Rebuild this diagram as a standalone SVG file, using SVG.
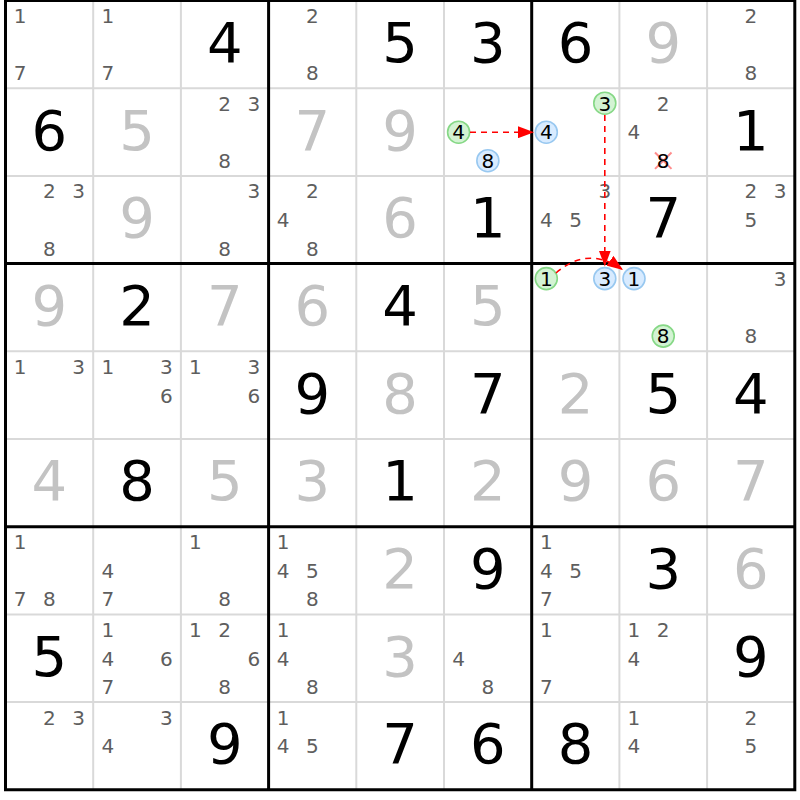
<svg xmlns="http://www.w3.org/2000/svg" width="800" height="800" viewBox="0 0 800 800">
<defs>
<style>
text{font-family:"DejaVu Sans","Liberation Sans",sans-serif;text-anchor:middle}
.g{font-size:56px;fill:#000}
.s{font-size:56px;fill:#c3c3c3}
.c{font-size:20px;fill:#5e5e5e}
.k{font-size:20px;fill:#000}
.gr{fill:#d3f3d3;stroke:#86d886;stroke-width:1.6}
.bl{fill:#d8ebff;stroke:#98c8f0;stroke-width:1.6}
.thin{stroke:#d9d9d9;stroke-width:2;fill:none}
.thick{stroke:#000;stroke-width:3;fill:none;stroke-linecap:square}
.arr{stroke:#f00;stroke-width:1.6;fill:none;stroke-dasharray:6 5}
.x{stroke:#ff7878;stroke-width:2;opacity:0.85}
</style>
<marker id="ah" markerUnits="userSpaceOnUse" markerWidth="16" markerHeight="12" viewBox="0 0 16 12" refX="16" refY="6" orient="auto">
<path d="M0,0 L16,6 L0,12 Z" fill="#f00"/>
</marker>
</defs>
<rect width="800" height="800" fill="#fff"/>
<g id="grid">
<path class="thin" d="M93.2,0.5V789.8M180.9,0.5V789.8M356.3,0.5V789.8M444,0.5V789.8M619.4,0.5V789.8M707.1,0.5V789.8M5.5,88.2H794.8M5.5,175.9H794.8M5.5,351.3H794.8M5.5,439H794.8M5.5,614.4H794.8M5.5,702.1H794.8"/>
<path class="thick" d="M5.5,0.5V789.8M268.6,0.5V789.8M531.7,0.5V789.8M794.8,0.5V789.8M5.5,0.5H794.8M5.5,263.6H794.8M5.5,526.7H794.8M5.5,789.8H794.8"/>
</g>

<g id="r1c1" transform="translate(5.5,0.5)"><text class="c" x="14.6" y="22.5">1</text><text class="c" x="14.6" y="79.8">7</text></g>
<g id="r1c2" transform="translate(93.2,0.5)"><text class="c" x="14.6" y="22.5">1</text><text class="c" x="14.6" y="79.8">7</text></g>
<g id="r1c3" transform="translate(180.9,0.5)"><text class="g" x="43.85" y="61.35">4</text></g>
<g id="r1c4" transform="translate(268.6,0.5)"><text class="c" x="43.85" y="22.5">2</text><text class="c" x="43.85" y="79.8">8</text></g>
<g id="r1c5" transform="translate(356.3,0.5)"><text class="g" x="43.85" y="61.35">5</text></g>
<g id="r1c6" transform="translate(444,0.5)"><text class="g" x="43.85" y="61.35">3</text></g>
<g id="r1c7" transform="translate(531.7,0.5)"><text class="g" x="43.85" y="61.35">6</text></g>
<g id="r1c8" transform="translate(619.4,0.5)"><text class="s" x="43.85" y="61.35">9</text></g>
<g id="r1c9" transform="translate(707.1,0.5)"><text class="c" x="43.85" y="22.5">2</text><text class="c" x="43.85" y="79.8">8</text></g>

<g id="r2c1" transform="translate(5.5,88.2)"><text class="g" x="43.85" y="61.35">6</text></g>
<g id="r2c2" transform="translate(93.2,88.2)"><text class="s" x="43.85" y="61.35">5</text></g>
<g id="r2c3" transform="translate(180.9,88.2)"><text class="c" x="43.85" y="22.5">2</text><text class="c" x="73.1" y="22.5">3</text><text class="c" x="43.85" y="79.8">8</text></g>
<g id="r2c4" transform="translate(268.6,88.2)"><text class="s" x="43.85" y="61.35">7</text></g>
<g id="r2c5" transform="translate(356.3,88.2)"><text class="s" x="43.85" y="61.35">9</text></g>
<g id="r2c6" transform="translate(444,88.2)"><circle class="gr" cx="14.6" cy="44" r="11"/><text class="k" x="14.6" y="51.3">4</text><circle class="bl" cx="43.85" cy="72.5" r="11"/><text class="k" x="43.85" y="79.8">8</text></g>
<g id="r2c7" transform="translate(531.7,88.2)"><circle class="gr" cx="73.1" cy="15" r="11"/><text class="k" x="73.1" y="22.5">3</text><circle class="bl" cx="14.6" cy="44" r="11"/><text class="k" x="14.6" y="51.3">4</text></g>
<g id="r2c8" transform="translate(619.4,88.2)"><text class="c" x="43.85" y="22.5">2</text><text class="c" x="14.6" y="51.3">4</text><path class="x" d="M35.6,64.3L52.1,80.7M52.1,64.3L35.6,80.7"/><text class="k" x="43.85" y="79.8">8</text></g>
<g id="r2c9" transform="translate(707.1,88.2)"><text class="g" x="43.85" y="61.35">1</text></g>

<g id="r3c1" transform="translate(5.5,175.9)"><text class="c" x="43.85" y="22.5">2</text><text class="c" x="73.1" y="22.5">3</text><text class="c" x="43.85" y="79.8">8</text></g>
<g id="r3c2" transform="translate(93.2,175.9)"><text class="s" x="43.85" y="61.35">9</text></g>
<g id="r3c3" transform="translate(180.9,175.9)"><text class="c" x="73.1" y="22.5">3</text><text class="c" x="43.85" y="79.8">8</text></g>
<g id="r3c4" transform="translate(268.6,175.9)"><text class="c" x="43.85" y="22.5">2</text><text class="c" x="14.6" y="51.3">4</text><text class="c" x="43.85" y="79.8">8</text></g>
<g id="r3c5" transform="translate(356.3,175.9)"><text class="s" x="43.85" y="61.35">6</text></g>
<g id="r3c6" transform="translate(444,175.9)"><text class="g" x="43.85" y="61.35">1</text></g>
<g id="r3c7" transform="translate(531.7,175.9)"><text class="c" x="73.1" y="22.5">3</text><text class="c" x="14.6" y="51.3">4</text><text class="c" x="43.85" y="51.3">5</text></g>
<g id="r3c8" transform="translate(619.4,175.9)"><text class="g" x="43.85" y="61.35">7</text></g>
<g id="r3c9" transform="translate(707.1,175.9)"><text class="c" x="43.85" y="22.5">2</text><text class="c" x="73.1" y="22.5">3</text><text class="c" x="43.85" y="51.3">5</text></g>

<g id="r4c1" transform="translate(5.5,263.6)"><text class="s" x="43.85" y="61.35">9</text></g>
<g id="r4c2" transform="translate(93.2,263.6)"><text class="g" x="43.85" y="61.35">2</text></g>
<g id="r4c3" transform="translate(180.9,263.6)"><text class="s" x="43.85" y="61.35">7</text></g>
<g id="r4c4" transform="translate(268.6,263.6)"><text class="s" x="43.85" y="61.35">6</text></g>
<g id="r4c5" transform="translate(356.3,263.6)"><text class="g" x="43.85" y="61.35">4</text></g>
<g id="r4c6" transform="translate(444,263.6)"><text class="s" x="43.85" y="61.35">5</text></g>
<g id="r4c7" transform="translate(531.7,263.6)"><circle class="gr" cx="14.6" cy="15" r="11"/><text class="k" x="14.6" y="22.5">1</text><circle class="bl" cx="73.1" cy="15" r="11"/><text class="k" x="73.1" y="22.5">3</text></g>
<g id="r4c8" transform="translate(619.4,263.6)"><circle class="bl" cx="14.6" cy="15" r="11"/><text class="k" x="14.6" y="22.5">1</text><circle class="gr" cx="43.85" cy="72.5" r="11"/><text class="k" x="43.85" y="79.8">8</text></g>
<g id="r4c9" transform="translate(707.1,263.6)"><text class="c" x="73.1" y="22.5">3</text><text class="c" x="43.85" y="79.8">8</text></g>

<g id="r5c1" transform="translate(5.5,351.3)"><text class="c" x="14.6" y="22.5">1</text><text class="c" x="73.1" y="22.5">3</text></g>
<g id="r5c2" transform="translate(93.2,351.3)"><text class="c" x="14.6" y="22.5">1</text><text class="c" x="73.1" y="22.5">3</text><text class="c" x="73.1" y="51.3">6</text></g>
<g id="r5c3" transform="translate(180.9,351.3)"><text class="c" x="14.6" y="22.5">1</text><text class="c" x="73.1" y="22.5">3</text><text class="c" x="73.1" y="51.3">6</text></g>
<g id="r5c4" transform="translate(268.6,351.3)"><text class="g" x="43.85" y="61.35">9</text></g>
<g id="r5c5" transform="translate(356.3,351.3)"><text class="s" x="43.85" y="61.35">8</text></g>
<g id="r5c6" transform="translate(444,351.3)"><text class="g" x="43.85" y="61.35">7</text></g>
<g id="r5c7" transform="translate(531.7,351.3)"><text class="s" x="43.85" y="61.35">2</text></g>
<g id="r5c8" transform="translate(619.4,351.3)"><text class="g" x="43.85" y="61.35">5</text></g>
<g id="r5c9" transform="translate(707.1,351.3)"><text class="g" x="43.85" y="61.35">4</text></g>

<g id="r6c1" transform="translate(5.5,439)"><text class="s" x="43.85" y="61.35">4</text></g>
<g id="r6c2" transform="translate(93.2,439)"><text class="g" x="43.85" y="61.35">8</text></g>
<g id="r6c3" transform="translate(180.9,439)"><text class="s" x="43.85" y="61.35">5</text></g>
<g id="r6c4" transform="translate(268.6,439)"><text class="s" x="43.85" y="61.35">3</text></g>
<g id="r6c5" transform="translate(356.3,439)"><text class="g" x="43.85" y="61.35">1</text></g>
<g id="r6c6" transform="translate(444,439)"><text class="s" x="43.85" y="61.35">2</text></g>
<g id="r6c7" transform="translate(531.7,439)"><text class="s" x="43.85" y="61.35">9</text></g>
<g id="r6c8" transform="translate(619.4,439)"><text class="s" x="43.85" y="61.35">6</text></g>
<g id="r6c9" transform="translate(707.1,439)"><text class="s" x="43.85" y="61.35">7</text></g>

<g id="r7c1" transform="translate(5.5,526.7)"><text class="c" x="14.6" y="22.5">1</text><text class="c" x="14.6" y="79.8">7</text><text class="c" x="43.85" y="79.8">8</text></g>
<g id="r7c2" transform="translate(93.2,526.7)"><text class="c" x="14.6" y="51.3">4</text><text class="c" x="14.6" y="79.8">7</text></g>
<g id="r7c3" transform="translate(180.9,526.7)"><text class="c" x="14.6" y="22.5">1</text><text class="c" x="43.85" y="79.8">8</text></g>
<g id="r7c4" transform="translate(268.6,526.7)"><text class="c" x="14.6" y="22.5">1</text><text class="c" x="14.6" y="51.3">4</text><text class="c" x="43.85" y="51.3">5</text><text class="c" x="43.85" y="79.8">8</text></g>
<g id="r7c5" transform="translate(356.3,526.7)"><text class="s" x="43.85" y="61.35">2</text></g>
<g id="r7c6" transform="translate(444,526.7)"><text class="g" x="43.85" y="61.35">9</text></g>
<g id="r7c7" transform="translate(531.7,526.7)"><text class="c" x="14.6" y="22.5">1</text><text class="c" x="14.6" y="51.3">4</text><text class="c" x="43.85" y="51.3">5</text><text class="c" x="14.6" y="79.8">7</text></g>
<g id="r7c8" transform="translate(619.4,526.7)"><text class="g" x="43.85" y="61.35">3</text></g>
<g id="r7c9" transform="translate(707.1,526.7)"><text class="s" x="43.85" y="61.35">6</text></g>

<g id="r8c1" transform="translate(5.5,614.4)"><text class="g" x="43.85" y="61.35">5</text></g>
<g id="r8c2" transform="translate(93.2,614.4)"><text class="c" x="14.6" y="22.5">1</text><text class="c" x="14.6" y="51.3">4</text><text class="c" x="73.1" y="51.3">6</text><text class="c" x="14.6" y="79.8">7</text></g>
<g id="r8c3" transform="translate(180.9,614.4)"><text class="c" x="14.6" y="22.5">1</text><text class="c" x="43.85" y="22.5">2</text><text class="c" x="73.1" y="51.3">6</text><text class="c" x="43.85" y="79.8">8</text></g>
<g id="r8c4" transform="translate(268.6,614.4)"><text class="c" x="14.6" y="22.5">1</text><text class="c" x="14.6" y="51.3">4</text><text class="c" x="43.85" y="79.8">8</text></g>
<g id="r8c5" transform="translate(356.3,614.4)"><text class="s" x="43.85" y="61.35">3</text></g>
<g id="r8c6" transform="translate(444,614.4)"><text class="c" x="14.6" y="51.3">4</text><text class="c" x="43.85" y="79.8">8</text></g>
<g id="r8c7" transform="translate(531.7,614.4)"><text class="c" x="14.6" y="22.5">1</text><text class="c" x="14.6" y="79.8">7</text></g>
<g id="r8c8" transform="translate(619.4,614.4)"><text class="c" x="14.6" y="22.5">1</text><text class="c" x="43.85" y="22.5">2</text><text class="c" x="14.6" y="51.3">4</text></g>
<g id="r8c9" transform="translate(707.1,614.4)"><text class="g" x="43.85" y="61.35">9</text></g>

<g id="r9c1" transform="translate(5.5,702.1)"><text class="c" x="43.85" y="22.5">2</text><text class="c" x="73.1" y="22.5">3</text></g>
<g id="r9c2" transform="translate(93.2,702.1)"><text class="c" x="73.1" y="22.5">3</text><text class="c" x="14.6" y="51.3">4</text></g>
<g id="r9c3" transform="translate(180.9,702.1)"><text class="g" x="43.85" y="61.35">9</text></g>
<g id="r9c4" transform="translate(268.6,702.1)"><text class="c" x="14.6" y="22.5">1</text><text class="c" x="14.6" y="51.3">4</text><text class="c" x="43.85" y="51.3">5</text></g>
<g id="r9c5" transform="translate(356.3,702.1)"><text class="g" x="43.85" y="61.35">7</text></g>
<g id="r9c6" transform="translate(444,702.1)"><text class="g" x="43.85" y="61.35">6</text></g>
<g id="r9c7" transform="translate(531.7,702.1)"><text class="g" x="43.85" y="61.35">8</text></g>
<g id="r9c8" transform="translate(619.4,702.1)"><text class="c" x="14.6" y="22.5">1</text><text class="c" x="14.6" y="51.3">4</text></g>
<g id="r9c9" transform="translate(707.1,702.1)"><text class="c" x="43.85" y="22.5">2</text><text class="c" x="43.85" y="51.3">5</text></g>

<g id="connectors">
<path class="arr" d="M470,132.2H534" marker-end="url(#ah)"/>
<path class="arr" d="M604.8,115V266.5" marker-end="url(#ah)"/>
<path class="arr" d="M556,273Q588,245 623,270" marker-end="url(#ah)"/>
</g>
</svg>
